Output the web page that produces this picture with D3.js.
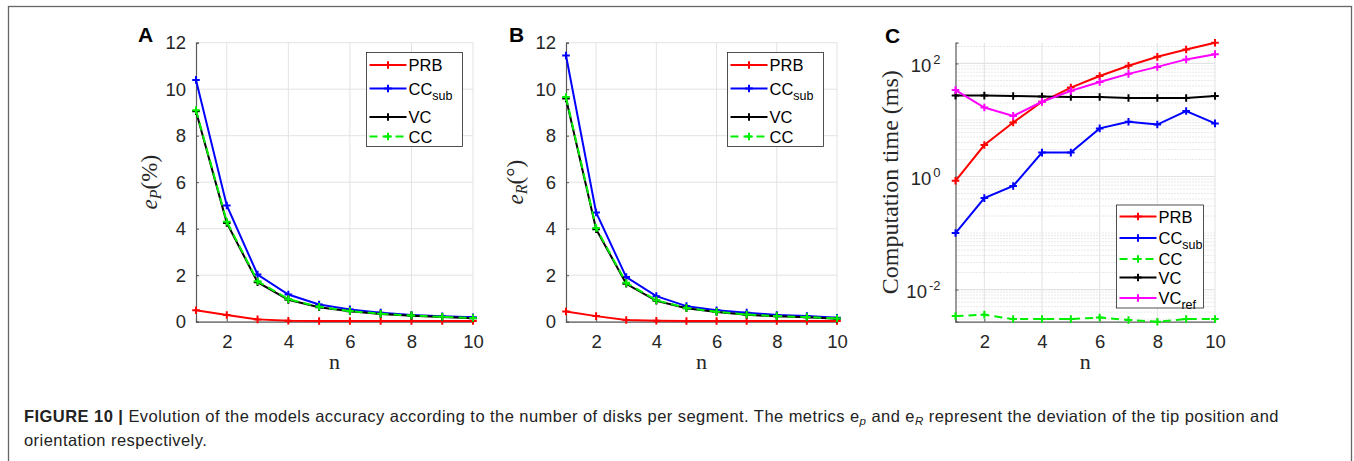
<!DOCTYPE html>
<html>
<head>
<meta charset="utf-8">
<style>
    body { margin: 0; background: white; }
    svg { display: block; background: white; }
    .tick text { font-family: 'Liberation Sans', Arial, sans-serif; font-size: 18.5px; fill: #262626; }
    .serif { font-family: 'Liberation Serif', 'Times New Roman', serif; fill: #262626; }
    .sans { font-family: 'Liberation Sans', Arial, sans-serif; }
</style>
</head>
<body>
<script src="https://cdnjs.cloudflare.com/ajax/libs/d3/7.8.5/d3.min.js"></script>
<script>

const width = 1354;
const height = 461;

// number of disks per segment
const nDisks = [1, 2, 3, 4, 5, 6, 7, 8, 9, 10];

// panel A: e_P (%)
const posPRB   = [0.49, 0.29, 0.10, 0.04, 0.03, 0.03, 0.03, 0.03, 0.03, 0.03];
const posCCsub = [10.4, 5.0, 2.03, 1.17, 0.74, 0.53, 0.39, 0.29, 0.23, 0.19];
const posVC    = [9.05, 4.25, 1.70, 0.94, 0.62, 0.45, 0.33, 0.26, 0.20, 0.15];
const posCC    = [9.10, 4.30, 1.74, 0.97, 0.64, 0.46, 0.34, 0.27, 0.21, 0.16];

// panel B: e_R (deg)
const rotPRB   = [0.44, 0.24, 0.07, 0.04, 0.03, 0.03, 0.03, 0.03, 0.03, 0.03];
const rotCCsub = [11.45, 4.70, 1.92, 1.10, 0.67, 0.49, 0.39, 0.29, 0.24, 0.17];
const rotVC    = [9.60, 3.98, 1.63, 0.90, 0.58, 0.42, 0.30, 0.23, 0.19, 0.13];
const rotCC    = [9.66, 4.03, 1.67, 0.92, 0.59, 0.43, 0.31, 0.24, 0.20, 0.14];

// panel C: computation time (ms)
const timePRB   = [0.84, 3.6, 9.0, 21, 37.5, 60, 91, 131, 177, 233];
const timeCCsub = [0.10, 0.415, 0.68, 2.65, 2.65, 7.1, 9.3, 8.3, 14.4, 8.7];
const timeCC    = [0.0034, 0.0036, 0.0030, 0.0030, 0.0030, 0.0032, 0.0029, 0.0027, 0.0030, 0.0030];
const timeVC    = [27, 27, 26.5, 26, 25.5, 25.5, 24.5, 24.5, 24.5, 26.5];
const timeVCref = [33.8, 16.6, 11.8, 21, 32.8, 47, 65.5, 87, 118, 146];

const xTicks = [2, 4, 6, 8, 10];
const linTicks = [0, 2, 4, 6, 8, 10, 12];
const logTicks = [1e-2, 1e0, 1e2];

const RED = '#ff0000', BLUE = '#0000ff', BLACK = '#000000', GREEN = '#00ee00', MAGENTA = '#ff00ff';

const svg = d3.select('body').append('svg')
    .attr('width', width)
    .attr('height', height);

// outer frame
svg.append('rect')
    .attr('x', 8.5).attr('y', 6.5)
    .attr('width', 1343).attr('height', 480)
    .attr('fill', 'none')
    .attr('stroke', '#666')
    .attr('stroke-width', 1.3);

const plotTop = 42.7;
const plotBottom = 321.7;

const drawSeries = (g, x, y, values, color, dashed) => {
    const line = d3.line()
        .x((d, i) => x(nDisks[i]))
        .y(d => y(d));
    g.append('path')
        .datum(values)
        .attr('d', line)
        .attr('fill', 'none')
        .attr('stroke', color)
        .attr('stroke-width', 2)
        .attr('stroke-dasharray', dashed ? '8,5' : null);
    // '+' markers
    const m = 3.8;
    values.forEach((v, i) => {
        const px = x(nDisks[i]);
        const py = y(v);
        g.append('path')
            .attr('d', `M${px - m},${py}H${px + m}M${px},${py - m}V${py + m}`)
            .attr('stroke', color)
            .attr('stroke-width', 2);
    });
};

const drawLegend = (g, x0, y0, w, entries) => {
    const h = entries.reduce((s, e) => s + e.dy, 0) + 10;
    g.append('rect')
        .attr('x', x0).attr('y', y0)
        .attr('width', w).attr('height', h)
        .attr('fill', 'white')
        .attr('stroke', '#262626')
        .attr('stroke-width', 0.8);
    let cy = y0;
    entries.forEach(e => {
        cy += e.dy;
        const lx1 = x0 + 3, lx2 = x0 + 40;
        g.append('line')
            .attr('x1', lx1).attr('x2', lx2)
            .attr('y1', cy).attr('y2', cy)
            .attr('stroke', e.color)
            .attr('stroke-width', 2)
            .attr('stroke-dasharray', e.dashed ? '8,5' : null);
        const mx = (lx1 + lx2) / 2;
        g.append('path')
            .attr('d', `M${mx - 3.8},${cy}H${mx + 3.8}M${mx},${cy - 3.8}V${cy + 3.8}`)
            .attr('stroke', e.color)
            .attr('stroke-width', 2);
        const t = g.append('text')
            .attr('class', 'sans')
            .attr('x', lx2 + 2)
            .attr('y', cy + 6)
            .attr('font-size', 16.5)
            .attr('fill', '#000')
            .text(e.label);
        if (e.sub) {
            t.append('tspan')
                .attr('dy', 5)
                .attr('font-size', 12.5)
                .text(e.sub);
        }
    });
};

const panelLetter = (letter, x, y) => {
    svg.append('text')
        .attr('class', 'sans')
        .attr('x', x).attr('y', y)
        .attr('font-size', 21)
        .attr('font-weight', 'bold')
        .attr('fill', '#000')
        .text(letter);
};

const xAxisLabel = (x) => {
    svg.append('text')
        .attr('class', 'serif')
        .attr('x', x).attr('y', 369)
        .attr('text-anchor', 'middle')
        .attr('font-size', 22)
        .text('n');
};

const linearPanel = (left, right, series, labelX, labelMain, labelSub, labelTail) => {
    const x = d3.scaleLinear().domain([1, 10]).range([left, right]);
    const y = d3.scaleLinear().domain([0, 12]).range([plotBottom, plotTop]);
    const g = svg.append('g');

    // grid
    g.append('g').selectAll('line').data(xTicks).join('line')
        .attr('x1', d => x(d)).attr('x2', d => x(d))
        .attr('y1', plotTop).attr('y2', plotBottom)
        .attr('stroke', '#e3e3e3').attr('stroke-width', 1);
    g.append('g').selectAll('line').data(linTicks).join('line')
        .attr('x1', left).attr('x2', right)
        .attr('y1', d => y(d)).attr('y2', d => y(d))
        .attr('stroke', '#e3e3e3').attr('stroke-width', 1);

    // axes
    const xa = g.append('g')
        .attr('transform', `translate(0,${plotBottom})`)
        .call(d3.axisBottom(x).tickValues(xTicks).tickSize(-3).tickPadding(13));
    const ya = g.append('g')
        .attr('transform', `translate(${left},0)`)
        .call(d3.axisLeft(y).tickValues(linTicks).tickSize(-3).tickPadding(10));
    [xa, ya].forEach(a => {
        a.select('.domain').attr('stroke', '#5a5a5a').attr('stroke-width', 1.2);
        a.selectAll('.tick line').attr('stroke', '#5a5a5a');
    });

    series.forEach(s => drawSeries(g, x, y, s.values, s.color, s.dashed));

    // y label
    const cy = (plotTop + plotBottom) / 2;
    const t = svg.append('text')
        .attr('class', 'serif')
        .attr('transform', `translate(${labelX},${cy}) rotate(-90)`)
        .attr('text-anchor', 'middle')
        .attr('font-size', 23);
    t.append('tspan').attr('font-style', 'italic').text(labelMain);
    t.append('tspan').attr('font-style', 'italic').attr('font-size', 16).attr('dy', 4).text(labelSub);
    t.append('tspan').attr('dy', -4).text(labelTail);

    xAxisLabel((left + right) / 2);
    return g;
};

// ---------- panel A ----------
const gA = linearPanel(196, 473, [
    { values: posPRB, color: RED },
    { values: posCCsub, color: BLUE },
    { values: posVC, color: BLACK },
    { values: posCC, color: GREEN, dashed: true }
], 157, 'e', 'P', '(%)');
drawLegend(gA, 366.5, 52.5, 96, [
    { label: 'PRB', color: RED, dy: 12.5 },
    { label: 'CC', sub: 'sub', color: BLUE, dy: 23.5 },
    { label: 'VC', color: BLACK, dy: 28.5 },
    { label: 'CC', color: GREEN, dashed: true, dy: 19.5 }
]);
panelLetter('A', 138, 42);

// ---------- panel B ----------
const gB = linearPanel(566, 837, [
    { values: rotPRB, color: RED },
    { values: rotCCsub, color: BLUE },
    { values: rotVC, color: BLACK },
    { values: rotCC, color: GREEN, dashed: true }
], 523, 'e', 'R', '(°)');
drawLegend(gB, 727.5, 52.5, 96, [
    { label: 'PRB', color: RED, dy: 12.5 },
    { label: 'CC', sub: 'sub', color: BLUE, dy: 23.5 },
    { label: 'VC', color: BLACK, dy: 28.5 },
    { label: 'CC', color: GREEN, dashed: true, dy: 19.5 }
]);
panelLetter('B', 509, 42);

// ---------- panel C ----------
{
    const left = 955.5, right = 1215;
    const all = [].concat(timePRB, timeCCsub, timeCC, timeVC, timeVCref);
    const x = d3.scaleLinear().domain([1, 10]).range([left, right]);
    const y = d3.scaleLog().domain(d3.extent(all)).range([plotBottom, plotTop]);
    const g = svg.append('g');

    // minor grid (dotted)
    const minor = [];
    for (let k = -3; k <= 2; k += 1) {
        for (let j = 1; j <= 9; j += 1) {
            const v = j * Math.pow(10, k);
            if (v >= y.domain()[0] && v <= y.domain()[1] && !logTicks.includes(v)) minor.push(v);
        }
    }
    g.append('g').selectAll('line').data(minor).join('line')
        .attr('x1', left).attr('x2', right)
        .attr('y1', d => y(d)).attr('y2', d => y(d))
        .attr('stroke', '#c8c8c8').attr('stroke-width', 0.8)
        .attr('stroke-dasharray', '1,2');
    g.append('g').selectAll('line').data(logTicks).join('line')
        .attr('x1', left).attr('x2', right)
        .attr('y1', d => y(d)).attr('y2', d => y(d))
        .attr('stroke', '#e3e3e3').attr('stroke-width', 1.2);
    g.append('g').selectAll('line').data(xTicks).join('line')
        .attr('x1', d => x(d)).attr('x2', d => x(d))
        .attr('y1', plotTop).attr('y2', plotBottom)
        .attr('stroke', '#e3e3e3').attr('stroke-width', 1);

    const xa = g.append('g')
        .attr('transform', `translate(0,${plotBottom})`)
        .call(d3.axisBottom(x).tickValues(xTicks).tickSize(-3).tickPadding(13));
    const ya = g.append('g')
        .attr('transform', `translate(${left},0)`)
        .call(d3.axisLeft(y).tickValues(logTicks).tickSize(-3).tickPadding(15).tickFormat(''));
    [xa, ya].forEach(a => {
        a.select('.domain').attr('stroke', '#5a5a5a').attr('stroke-width', 1.2);
        a.selectAll('.tick line').attr('stroke', '#5a5a5a');
    });
    // 10^k labels
    ya.selectAll('.tick text').each(function (d) {
        const t = d3.select(this).text(null).attr('dy', '0.45em');
        t.append('tspan').text('10');
        t.append('tspan').attr('font-size', 13).attr('dy', -8).attr('dx', 2).text(Math.round(Math.log10(d)));
    });

    drawSeries(g, x, y, timePRB, RED);
    drawSeries(g, x, y, timeCCsub, BLUE);
    drawSeries(g, x, y, timeCC, GREEN, true);
    drawSeries(g, x, y, timeVC, BLACK);
    drawSeries(g, x, y, timeVCref, MAGENTA);

    svg.append('text')
        .attr('class', 'serif')
        .attr('transform', `translate(898,${(plotTop + plotBottom) / 2}) rotate(-90)`)
        .attr('text-anchor', 'middle')
        .attr('font-size', 24)
        .text('Computation time (ms)');

    xAxisLabel((left + right) / 2);

    drawLegend(g, 1116.5, 205, 87, [
        { label: 'PRB', color: RED, dy: 11.5 },
        { label: 'CC', sub: 'sub', color: BLUE, dy: 21.5 },
        { label: 'CC', color: GREEN, dashed: true, dy: 21 },
        { label: 'VC', color: BLACK, dy: 18.5 },
        { label: 'VC', sub: 'ref', color: MAGENTA, dy: 20.5 }
    ]);
    panelLetter('C', 885, 43);
}

// ---------- caption ----------
const capSize = 16.5;
const cap1 = svg.append('text')
    .attr('class', 'sans')
    .attr('x', 24).attr('y', 422)
    .attr('font-size', capSize)
    .attr('fill', '#222');
cap1.append('tspan').attr('font-weight', 'bold').text('FIGURE 10 | ');
cap1.append('tspan').text('Evolution of the models accuracy according to the number of disks per segment. The metrics e');
cap1.append('tspan').attr('font-style', 'italic').attr('font-size', 11.5).attr('dy', 3).text('p');
cap1.append('tspan').attr('dy', -3).text(' and e');
cap1.append('tspan').attr('font-style', 'italic').attr('font-size', 11.5).attr('dy', 3).text('R');
cap1.append('tspan').attr('dy', -3).text(' represent the deviation of the tip position and');

const cap2 = svg.append('text')
    .attr('class', 'sans')
    .attr('x', 24).attr('y', 445.5)
    .attr('font-size', capSize)
    .attr('fill', '#222')
    .text('orientation respectively.');

// stretch the caption to the width of the original line
const targetLen = 1255;
const len = cap1.node().getComputedTextLength();
const nChars = cap1.text().length;
const spacing = (targetLen - len) / nChars;
cap1.attr('letter-spacing', spacing);
cap2.attr('letter-spacing', spacing);

</script>
</body>
</html>
